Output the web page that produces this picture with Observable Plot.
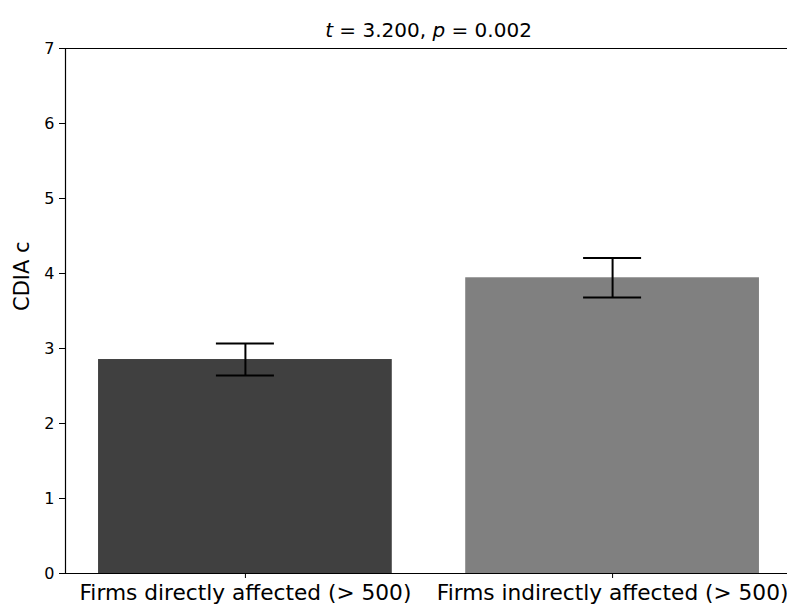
<!DOCTYPE html>
<html>
<head>
<meta charset="utf-8">
<script src="https://cdn.jsdelivr.net/npm/d3@7"></script>
<script src="https://cdn.jsdelivr.net/npm/@observablehq/plot@0.6"></script>
<style>
  html, body { margin: 0; padding: 0; background: white; }
  #chart svg { display: block; }
</style>
</head>
<body>
<div id="chart"></div>
<script>
// Data
const categories = ["Firms directly affected (> 500)", "Firms indirectly affected (> 500)"];
const means = [2.853, 3.943];
const errors = [0.213, 0.263];
const yTicks = [0, 1, 2, 3, 4, 5, 6, 7];
const yLabel = "CDIA c";
const tStat = "3.200";
const pValue = "0.002";

const rows = categories.map((c, i) => ({
  category: c,
  pos: i,
  mean: means[i],
  lo: means[i] - errors[i],
  hi: means[i] + errors[i]
}));
const caps = rows.flatMap(d => [
  {pos: d.pos, v: d.lo},
  {pos: d.pos, v: d.hi}
]);

const W = 787, H = 606;
const halfBar = 0.4, halfCap = 0.079;

const plot = Plot.plot({
  width: W,
  height: H,
  marginLeft: 65,
  marginRight: -5,
  marginTop: 48,
  marginBottom: 33,
  style: {fontFamily: "'DejaVu Sans', sans-serif", fontSize: "16px", background: "white", overflow: "visible", color: "black"},
  x: {type: "linear", domain: [-0.49, 1.49], label: null},
  y: {domain: [0, 7], label: null},
  color: {domain: categories, range: ["#404040", "#808080"]},
  marks: [
    Plot.rectY(rows, {x1: d => d.pos - halfBar, x2: d => d.pos + halfBar, y1: 0, y2: "mean", fill: "category"}),
    Plot.ruleX(rows, {x: "pos", y1: "lo", y2: "hi", stroke: "black", strokeWidth: 2}),
    Plot.ruleY(caps, {y: "v", x1: d => d.pos - halfCap, x2: d => d.pos + halfCap, stroke: "black", strokeWidth: 2}),
    // spines
    Plot.ruleY([0], {stroke: "black", strokeWidth: 1.2}),
    Plot.ruleY([7], {stroke: "black", strokeWidth: 1.2}),
    Plot.ruleX([-0.49], {stroke: "black", strokeWidth: 1.2}),
    Plot.axisY({ticks: yTicks, tickSize: 6, tickPadding: 5, fontSize: 16, label: null, tickFormat: d => String(d)}),
    Plot.axisX({ticks: [0, 1], tickSize: 5, tickPadding: 6, fontSize: 21.7, label: null, tickFormat: i => categories[i]}),
    Plot.text([yLabel], {frameAnchor: "left", rotate: -90, dx: -43.5, fontSize: 21, fill: "black"})
  ]
});

document.getElementById("chart").appendChild(plot);

// Title with italic t and p (mathtext style)
const svg = d3.select(plot);
const title = svg.append("text")
  .attr("x", (65 + 792) / 2)
  .attr("y", 37)
  .attr("text-anchor", "middle")
  .attr("font-family", "'DejaVu Sans', sans-serif")
  .attr("font-size", 20)
  .attr("fill", "black");
title.append("tspan").attr("font-style", "italic").text("t");
title.append("tspan").text(" = " + tStat + ", ");
title.append("tspan").attr("font-style", "italic").text("p");
title.append("tspan").text(" = " + pValue);
</script>
</body>
</html>
